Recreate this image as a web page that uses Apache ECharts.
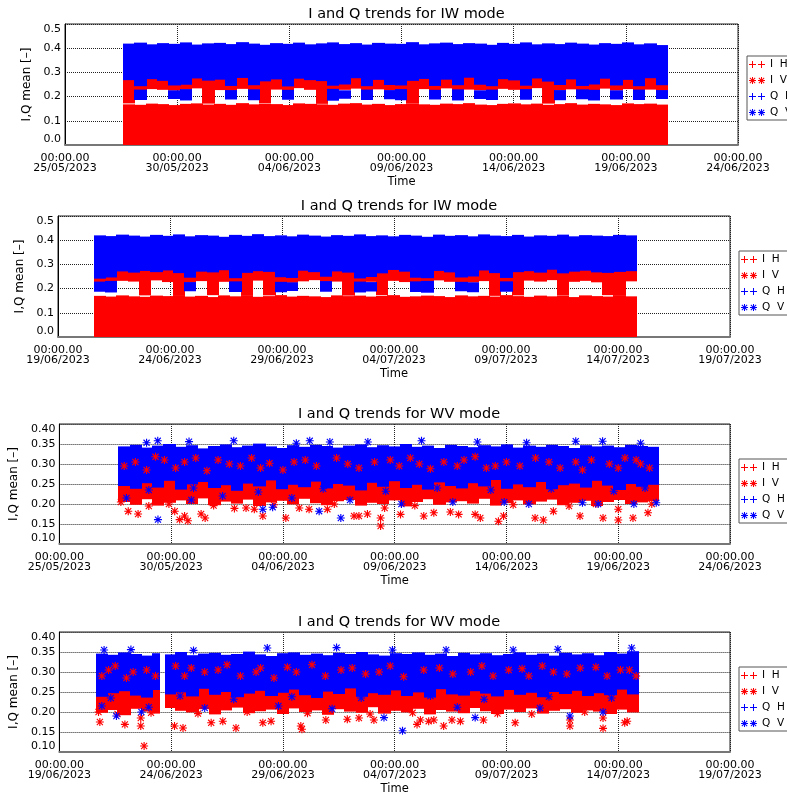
<!DOCTYPE html>
<html>
<head>
<meta charset="utf-8">
<script src="https://cdn.jsdelivr.net/npm/echarts@6/dist/echarts.min.js"></script>
<style>
html, body { margin: 0; padding: 0; background: #fff; }
#chart { width: 787px; height: 796px; }
</style>
</head>
<body>
<div id="chart"></div>
<script>
// x values are days since the first tick of each panel's time axis
var axisStart = [Date.UTC(2023, 4, 25), Date.UTC(2023, 5, 19), Date.UTC(2023, 4, 25), Date.UTC(2023, 5, 19)];
var dayTicks = 5;

// ---- panel 1: IW mode, 25/05 - 24/06 (12 h bins) ----
var iw1Span = [2.58, 26.83];
var iw1IHTop = [0.168,0.166,0.171,0.169,0.165,0.170,0.172,0.167,0.170,0.166,0.173,0.168,0.171,0.169,0.165,0.172,0.170,0.168,0.166,0.171,0.173,0.167,0.170,0.165,
                0.169,0.172,0.168,0.166,0.171,0.169,0.173,0.167,0.165,0.170,0.172,0.168,0.171,0.166,0.169,0.173,0.167,0.170,0.168,0.165,0.172,0.169,0.171,0.167];
var iw1IVLo = [0.172,0.226,0.231,0.228,0.225,0.229,0.234,0.171,0.227,0.224,0.232,0.226,0.173,0.229,0.225,0.235,0.228,0.170,0.224,0.228,0.233,0.225,0.230,0.226,
               0.224,0.172,0.231,0.227,0.234,0.225,0.229,0.226,0.223,0.232,0.228,0.225,0.235,0.171,0.226,0.230,0.224,0.227,0.233,0.225,0.231,0.226,0.229,0.224];
var iw1IVTop = [0.288,0.284,0.291,0.286,0.289,0.283,0.290,0.287,0.285,0.292,0.284,0.288,0.286,0.290,0.283,0.289,0.287,0.291,0.285,0.288,0.284,0.290,0.286,0.289,
                0.287,0.283,0.290,0.285,0.288,0.292,0.284,0.289,0.286,0.290,0.283,0.288,0.291,0.285,0.287,0.289,0.284,0.290,0.286,0.288,0.285,0.291,0.287,0.289];
var iw1QHLo = [0.268,0.243,0.272,0.265,0.246,0.249,0.275,0.266,0.270,0.244,0.277,0.247,0.263,0.271,0.242,0.274,0.268,0.264,0.245,0.250,0.276,0.243,0.269,0.248,
               0.246,0.265,0.273,0.244,0.270,0.247,0.278,0.249,0.243,0.272,0.267,0.245,0.275,0.262,0.248,0.271,0.244,0.250,0.274,0.246,0.269,0.243,0.276,0.247];
var iw1QHTop = [0.419,0.423,0.416,0.421,0.418,0.424,0.415,0.420,0.422,0.417,0.425,0.419,0.414,0.421,0.418,0.423,0.416,0.420,0.424,0.417,0.421,0.415,0.422,0.419,
                0.418,0.425,0.416,0.420,0.423,0.417,0.421,0.419,0.414,0.422,0.418,0.424,0.416,0.420,0.417,0.423,0.419,0.415,0.421,0.418,0.424,0.416,0.420,0.413];
var iw1QVLo = [null,0.186,null,null,0.190,0.184,null,null,null,0.188,null,0.185,null,null,0.187,null,null,null,0.183,0.191,null,0.186,null,0.189,
               0.185,null,null,0.188,null,0.184,null,0.190,0.186,null,null,0.187,null,null,0.185,null,0.189,0.184,null,0.188,null,0.186,null,0.190];
var iw1QVTop = [null,0.229,null,null,0.226,0.231,null,null,null,0.227,null,0.230,null,null,0.228,null,null,null,0.232,0.226,null,0.229,null,0.227,
                0.231,null,null,0.228,null,0.230,null,0.226,0.229,null,null,0.231,null,null,0.227,null,0.230,0.228,null,0.226,null,0.229,null,0.227];

// ---- panel 2: IW mode, 19/06 - 19/07 ----
var iw2Span = [1.60, 25.80];
var iw2IHTop = [0.170,0.167,0.172,0.168,0.166,0.171,0.169,0.173,0.167,0.170,0.165,0.172,0.168,0.171,0.166,0.169,0.173,0.167,0.170,0.168,0.165,0.172,0.169,0.171,
                0.167,0.170,0.173,0.166,0.168,0.171,0.169,0.165,0.172,0.168,0.170,0.167,0.173,0.169,0.166,0.171,0.168,0.170,0.165,0.172,0.169,0.167,0.171,0.168];
var iw2IVLo = [0.226,0.228,0.232,0.229,0.172,0.234,0.227,0.171,0.225,0.231,0.173,0.228,0.226,0.170,0.233,0.172,0.227,0.224,0.230,0.235,0.226,0.229,0.171,0.225,
               0.228,0.173,0.232,0.227,0.224,0.229,0.234,0.228,0.226,0.225,0.231,0.170,0.227,0.172,0.233,0.229,0.235,0.171,0.228,0.232,0.226,0.173,0.170,0.230];
var iw2IVTop = [0.287,0.284,0.290,0.286,0.289,0.283,0.291,0.285,0.288,0.284,0.290,0.287,0.283,0.289,0.286,0.292,0.284,0.288,0.285,0.290,0.287,0.283,0.289,0.286,
                0.288,0.284,0.291,0.285,0.287,0.290,0.283,0.288,0.286,0.289,0.284,0.291,0.285,0.287,0.290,0.283,0.288,0.286,0.289,0.284,0.290,0.287,0.285,0.288];
var iw2QHLo = [0.241,0.246,0.271,0.266,0.273,0.268,0.275,0.264,0.245,0.270,0.267,0.276,0.243,0.265,0.272,0.269,0.247,0.244,0.274,0.268,0.249,0.271,0.266,0.242,
               0.248,0.263,0.277,0.270,0.245,0.243,0.273,0.267,0.246,0.250,0.275,0.264,0.244,0.268,0.272,0.266,0.278,0.263,0.270,0.274,0.267,0.265,0.269,0.272];
var iw2QHTop = [0.420,0.417,0.423,0.419,0.415,0.422,0.418,0.424,0.416,0.421,0.419,0.414,0.422,0.418,0.425,0.417,0.420,0.416,0.423,0.419,0.415,0.421,0.418,0.424,
                0.417,0.420,0.416,0.422,0.419,0.414,0.423,0.418,0.421,0.416,0.424,0.419,0.417,0.422,0.415,0.420,0.418,0.423,0.416,0.421,0.419,0.417,0.422,0.420];
var iw2QVLo = [0.187,0.184,null,null,null,null,null,null,0.189,null,null,null,0.186,null,null,null,0.185,0.190,null,null,0.187,null,null,0.184,
               0.188,null,null,null,0.186,0.183,null,null,0.189,0.185,null,null,0.187,null,null,null,null,null,null,null,null,null,null,null];
var iw2QVTop = [0.229,0.232,null,null,null,null,null,null,0.227,null,null,null,0.230,null,null,null,0.228,0.226,null,null,0.231,null,null,0.229,
                0.227,null,null,null,0.230,0.232,null,null,0.228,0.226,null,null,0.230,null,null,null,null,null,null,null,null,null,null,null];

// ---- panel 3: WV mode, 25/05 - 24/06 ----
var wv3Span = [2.64, 26.80];
var wv3IHLo = [0.205,0.198,0.212,0.196,0.203,0.209,0.200,0.214,0.197,0.206,0.201,0.211,0.195,0.204,0.208,0.199,0.213,0.202,0.197,0.207,0.210,0.196,0.203,0.200,
               0.209,0.194,0.205,0.212,0.198,0.204,0.207,0.201,0.213,0.196,0.202,0.209,0.199,0.206,0.211,0.197,0.203,0.208,0.195,0.205,0.210,0.200,0.204,0.207];
var wv3IHTop = 0.27;
var wv3QHLo = [0.245,0.238,0.252,0.241,0.258,0.236,0.249,0.255,0.240,0.247,0.233,0.251,0.244,0.259,0.237,0.248,0.242,0.256,0.239,0.250,0.246,0.234,0.253,0.243,
               0.257,0.240,0.248,0.236,0.254,0.245,0.239,0.252,0.244,0.260,0.238,0.249,0.242,0.255,0.237,0.247,0.251,0.241,0.258,0.246,0.235,0.250,0.243,0.248];
var wv3QHTop = [0.344,0.348,0.341,0.346,0.350,0.343,0.347,0.339,0.345,0.349,0.342,0.346,0.351,0.344,0.340,0.347,0.343,0.348,0.345,0.341,0.346,0.349,0.342,0.347,
                0.344,0.350,0.343,0.346,0.340,0.348,0.345,0.342,0.347,0.344,0.349,0.341,0.346,0.343,0.348,0.345,0.340,0.347,0.344,0.346,0.342,0.348,0.345,0.343];
var wv3IVPts = [[3.08,0.182],[3.52,0.175],[5.16,0.182],[5.38,0.161],[5.60,0.170],[5.75,0.158],[6.34,0.175],[6.52,0.165],[7.83,0.189],[8.35,0.190],
                [8.72,0.187],[9.10,0.170],[10.13,0.165],[10.73,0.190],[11.17,0.187],[11.99,0.187],[13.18,0.170],[13.40,0.170],[13.78,0.175],[14.37,0.145],
                [14.37,0.165],[14.55,0.190],[15.26,0.174],[16.30,0.170],[16.75,0.178],[17.49,0.180],[17.86,0.174],[18.60,0.174],[18.83,0.165],[19.64,0.157],
                [19.87,0.170],[21.28,0.165],[21.65,0.160],[22.10,0.182],[23.29,0.170],[24.32,0.165],[25.00,0.160],[25.00,0.187],[25.66,0.165],[26.33,0.178],
                [2.75,0.205],[4.00,0.195],[4.90,0.200],[6.90,0.196],[9.60,0.198],[12.30,0.200],[15.90,0.196],[20.30,0.198],[22.80,0.195],[24.00,0.200],[26.50,0.200],
                [3.40,0.305],[4.70,0.310],[6.10,0.315],[7.60,0.300],[9.00,0.290],[10.50,0.305],[12.90,0.300],[14.80,0.310],[16.10,0.300],[18.10,0.310],
                [19.50,0.295],[21.90,0.305],[23.80,0.310],[25.30,0.315],[26.00,0.300],
                [2.90,0.295],[3.90,0.285],[4.30,0.318],[5.20,0.290],[5.60,0.305],[6.60,0.283],[7.10,0.310],[8.10,0.295],[8.60,0.315],[9.40,0.302],
                [10.00,0.285],[11.00,0.310],[11.50,0.295],[12.40,0.315],[13.40,0.290],[14.10,0.305],[15.20,0.295],[15.70,0.315],[16.60,0.288],[17.20,0.305],
                [17.80,0.295],[18.60,0.318],[19.10,0.290],[20.00,0.305],[20.60,0.295],[21.30,0.315],[22.40,0.290],[23.10,0.305],[23.40,0.285],[24.60,0.300],
                [25.00,0.290],[25.80,0.310],[26.40,0.290]];
var wv3QVPts = [[4.41,0.161],[12.59,0.165],[9.54,0.192],[11.62,0.182],[9.10,0.187],
                [15.30,0.200],[17.60,0.205],[19.90,0.205],[21.00,0.200],[23.40,0.203],[24.10,0.200],[25.70,0.200],[26.70,0.203],[3.00,0.215],[5.90,0.210],
                [7.30,0.220],[10.40,0.215],[13.00,0.210],
                [4.00,0.235],[6.00,0.240],[8.90,0.230],[11.80,0.238],[14.60,0.232],[16.90,0.240],[19.30,0.235],[22.00,0.238],[24.80,0.232],[26.20,0.240],
                [3.90,0.353],[4.40,0.358],[5.80,0.356],[7.80,0.358],[10.60,0.352],[11.20,0.358],[12.10,0.355],[13.80,0.355],[16.20,0.358],[18.70,0.355],
                [20.90,0.353],[23.10,0.357],[24.30,0.357],[26.00,0.352]];

// ---- panel 4: WV mode, 19/06 - 19/07 ----
var wv4Span = [1.63, 25.90];
var wv4Gap = [4.47, 4.72];
var wv4IHLo = [0.198,0.205,0.192,0.208,0.201,0.196,0.210,0.203,0.199,0.207,0.194,0.204,0.211,0.197,0.202,0.206,0.195,0.209,0.200,0.204,0.193,0.207,0.201,0.198,
               0.212,0.196,0.203,0.199,0.208,0.194,0.205,0.201,0.197,0.210,0.202,0.195,0.206,0.200,0.209,0.196,0.203,0.207,0.198,0.204,0.201,0.195,0.206,0.199];
var wv4IHTop = 0.27;
var wv4QHLo = [0.238,0.247,0.252,0.241,0.236,0.255,0.244,0.249,0.239,0.258,0.243,0.250,0.237,0.246,0.253,0.240,0.248,0.256,0.242,0.235,0.251,0.245,0.259,0.238,
               0.247,0.243,0.254,0.240,0.249,0.236,0.257,0.244,0.241,0.252,0.246,0.239,0.255,0.243,0.248,0.237,0.250,0.245,0.253,0.240,0.247,0.242,0.256,0.244];
var wv4QHTop = [0.346,0.343,0.349,0.345,0.341,0.347,0.344,0.350,0.342,0.346,0.348,0.343,0.345,0.351,0.344,0.340,0.347,0.349,0.343,0.346,0.342,0.348,0.345,0.350,
                0.344,0.341,0.347,0.345,0.349,0.343,0.346,0.340,0.348,0.344,0.347,0.342,0.345,0.349,0.343,0.346,0.341,0.348,0.344,0.347,0.342,0.350,0.346,0.352];
var wv4IVPts = [[1.81,0.175],[2.93,0.169],[3.64,0.185],[3.64,0.165],[3.79,0.115],[5.15,0.165],[5.53,0.160],[6.79,0.173],[7.31,0.177],[7.90,0.160],
                [9.10,0.173],[9.47,0.177],[10.80,0.165],[10.85,0.157],[11.92,0.180],[12.88,0.182],[13.40,0.185],[14.07,0.180],[16.00,0.169],[16.15,0.180],
                [16.52,0.177],[16.75,0.180],[17.19,0.165],[17.56,0.180],[17.94,0.177],[18.97,0.180],[20.39,0.173],[21.13,0.195],[22.84,0.180],[22.84,0.165],
                [24.32,0.159],[24.32,0.185],[25.29,0.173],[25.40,0.177],
                [1.75,0.200],[2.60,0.195],[4.10,0.198],[6.20,0.196],[8.40,0.200],[11.10,0.197],[13.90,0.195],[15.80,0.198],[19.60,0.196],[23.50,0.200],
                [2.20,0.305],[3.30,0.300],[5.90,0.310],[7.10,0.305],[8.80,0.300],[10.20,0.312],[12.60,0.305],[14.30,0.300],[17.00,0.310],[18.40,0.300],
                [20.70,0.308],[22.10,0.300],[24.00,0.312],[25.50,0.305],
                [1.90,0.290],[2.50,0.315],[3.00,0.285],[3.90,0.305],[4.30,0.290],[5.20,0.315],[5.60,0.290],[6.50,0.300],[7.50,0.318],[8.10,0.290],
                [9.00,0.310],[9.60,0.285],[10.60,0.300],[11.30,0.318],[11.90,0.290],[13.10,0.310],[13.70,0.295],[14.80,0.315],[15.40,0.288],[16.30,0.305],
                [17.60,0.295],[18.90,0.315],[19.40,0.290],[20.10,0.305],[21.00,0.290],[21.60,0.315],[22.70,0.295],[23.30,0.310],[24.50,0.290],[25.10,0.305],
                [25.80,0.290]];
var wv4QVPts = [[2.55,0.190],[3.67,0.200],[14.52,0.186],[15.35,0.153],[18.60,0.186],[22.84,0.190],[24.32,0.200],
                [1.90,0.215],[4.00,0.212],[6.50,0.210],[9.80,0.215],[12.20,0.208],[17.80,0.212],[21.50,0.210],
                [2.30,0.235],[5.40,0.240],[7.80,0.232],[10.40,0.238],[13.50,0.235],[16.60,0.240],[19.00,0.232],[21.90,0.238],[24.70,0.235],
                [2.00,0.355],[3.20,0.356],[6.00,0.354],[9.30,0.360],[12.40,0.361],[14.90,0.355],[17.30,0.355],[20.30,0.355],[22.30,0.357],[25.60,0.360]];

// ---- drawing ----
var RED = '#ff0000', BLUE = '#0000ff', FONT = 'DejaVu Sans';
var PLUS = 'M3,0h1v7h-1zM0,3h7v1h-7z';
var STAR = PLUS + 'M0.5,1.2L1.2,0.5L6.5,5.8L5.8,6.5zM5.8,0.5L6.5,1.2L1.2,6.5L0.5,5.8z';
var PLUS2 = PLUS + 'M12,0h1v7h-1zM9,3h7v1h-7z';
var STAR2 = STAR + 'M12,0h1v7h-1zM9,3h7v1h-7zM9.5,1.2L10.2,0.5L15.5,5.8L14.8,6.5zM14.8,0.5L15.5,1.2L10.2,6.5L9.5,5.8z';

var layout = [
    {left: 65, right: 49, top: 24, height: 121, legend: [747, 56], ymin: 0, ymax: 0.5, step: 0.1, dec: 1, nameGap: 32, title: 'I and Q trends for IW mode'},
    {left: 58, right: 57, top: 216, height: 121, legend: [739, 251], ymin: 0, ymax: 0.5, step: 0.1, dec: 1, nameGap: 30, title: 'I and Q trends for IW mode'},
    {left: 58, right: 57, top: 424, height: 120, legend: [739, 459], ymin: 0.1, ymax: 0.4, step: 0.05, dec: 2, nameGap: 39, title: 'I and Q trends for WV mode'},
    {left: 58, right: 57, top: 632, height: 120, legend: [739, 667], ymin: 0.1, ymax: 0.4, step: 0.05, dec: 2, nameGap: 39, title: 'I and Q trends for WV mode'}
];

function pick(v, i) { return typeof v === 'number' ? v : v[i]; }

// one rectangle per time bin: [x0, x1, lo, hi]
function band(span, lo, hi, gap) {
    var n = typeof lo === 'number' ? hi.length : lo.length;
    var w = (span[1] - span[0]) / n, out = [];
    for (var i = 0; i < n; i++) {
        var a = span[0] + i * w, b = a + w, l = pick(lo, i), h = pick(hi, i);
        if (l == null || h == null) continue;
        if (gap && a < gap[1] && b > gap[0]) {
            if (a < gap[0]) out.push([a, gap[0], l, h]);
            if (b > gap[1]) out.push([gap[1], b, l, h]);
        } else {
            out.push([a, b, l, h]);
        }
    }
    return out;
}

function renderBand(params, api) {
    var p0 = api.coord([api.value(0), api.value(3)]);
    var p1 = api.coord([api.value(1), api.value(2)]);
    var x0 = Math.round(p0[0]), x1 = Math.round(p1[0]);
    return {
        type: 'rect',
        shape: {x: x0, y: p0[1], width: x1 - x0 + 1, height: p1[1] - p0[1]},
        style: {fill: api.visual('color')}
    };
}

function bandSeries(name, color, k, data) {
    return {
        type: 'custom', name: name, xAxisIndex: k, yAxisIndex: k, clip: true, silent: true,
        renderItem: renderBand, encode: {x: [0, 1], y: [2, 3]},
        itemStyle: {color: color}, data: data
    };
}

function pointSeries(name, color, symbol, size, k, data) {
    return {
        type: 'scatter', name: name, xAxisIndex: k, yAxisIndex: k, silent: true,
        symbol: 'path://' + symbol, symbolSize: size,
        itemStyle: {color: color, opacity: 1}, data: data
    };
}

function pad(n) { return n < 10 ? '0' + n : '' + n; }

var grids = [], xAxes = [], yAxes = [], titles = [], legends = [], series = [];

layout.forEach(function (p, k) {
    grids.push({left: p.left, right: p.right, top: p.top, height: p.height, show: true,
                borderColor: '#222', borderWidth: 1, backgroundColor: '#fff'});
    xAxes.push({
        type: 'value', gridIndex: k, min: 0, max: 30, interval: dayTicks,
        name: 'Time', nameLocation: 'middle', nameGap: 31,
        nameTextStyle: {fontFamily: FONT, fontSize: 11.5, color: '#000'},
        axisLine: {lineStyle: {color: '#777', width: 2}},
        axisTick: {show: false},
        splitLine: {show: true, lineStyle: {color: '#222', width: 1, type: [1, 1]}},
        axisLabel: {
            fontFamily: FONT, fontSize: 11, color: '#000', margin: 8, lineHeight: 10,
            showMinLabel: true, showMaxLabel: true,
            formatter: function (v) {
                var d = new Date(axisStart[k] + v * 86400000);
                return '00:00.00\n' + pad(d.getUTCDate()) + '/' + pad(d.getUTCMonth() + 1) + '/' + d.getUTCFullYear();
            }
        }
    });
    yAxes.push({
        type: 'value', gridIndex: k, min: p.ymin, max: p.ymax, interval: p.step,
        name: 'I,Q mean [–]', nameLocation: 'middle', nameGap: p.nameGap,
        nameTextStyle: {fontFamily: FONT, fontSize: 12, color: '#000'},
        axisLine: {show: true, lineStyle: {color: '#000', width: 1}},
        axisTick: {show: false},
        splitLine: {show: true, lineStyle: {color: '#222', width: 1, type: [1, 1]}},
        axisLabel: {
            fontFamily: FONT, fontSize: 11, color: '#000', margin: 4,
            verticalAlignMinLabel: 'bottom', verticalAlignMaxLabel: 'top',
            formatter: function (v) { return v.toFixed(p.dec); }
        }
    });
    titles.push({
        text: p.title, left: p.left + (787 - p.left - p.right) / 2, textAlign: 'center', top: p.top - 22,
        textStyle: {fontFamily: FONT, fontSize: 14.5, fontWeight: 'normal', color: '#000'}
    });
    legends.push({
        left: p.legend[0], top: p.legend[1], orient: 'vertical', selectedMode: false,
        itemWidth: 16, itemHeight: 8, itemGap: 5, padding: [3, 4, 2, 2],
        borderColor: '#555', borderWidth: 1, backgroundColor: '#fff',
        textStyle: {fontFamily: FONT, fontSize: 10.5, color: '#000', lineHeight: 8},
        formatter: function (n) { return n.replace(' ', '  '); },
        data: [
            {name: 'I H', icon: 'path://' + PLUS2, itemStyle: {color: RED}},
            {name: 'I V', icon: 'path://' + STAR2, itemStyle: {color: RED}},
            {name: 'Q H', icon: 'path://' + PLUS2, itemStyle: {color: BLUE}},
            {name: 'Q V', icon: 'path://' + STAR2, itemStyle: {color: BLUE}}
        ]
    });
});

// IW panels: I H low band, I V middle band, Q H upper band, Q V blobs near 0.2
series.push(bandSeries('I H', RED, 0, band(iw1Span, 0, iw1IHTop)));
series.push(bandSeries('I V', RED, 0, band(iw1Span, iw1IVLo, iw1IVTop)));
series.push(bandSeries('Q H', BLUE, 0, band(iw1Span, iw1QHLo, iw1QHTop)));
series.push(bandSeries('Q V', BLUE, 0, band(iw1Span, iw1QVLo, iw1QVTop)));

series.push(bandSeries('I H', RED, 1, band(iw2Span, 0, iw2IHTop)));
series.push(bandSeries('I V', RED, 1, band(iw2Span, iw2IVLo, iw2IVTop)));
series.push(bandSeries('Q H', BLUE, 1, band(iw2Span, iw2QHLo, iw2QHTop)));
series.push(bandSeries('Q V', BLUE, 1, band(iw2Span, iw2QVLo, iw2QVTop)));

// WV panels: dense cores as bands, scattered asterisks on top
series.push(bandSeries('I H', RED, 2, band(wv3Span, wv3IHLo, wv3IHTop)));
series.push(bandSeries('Q H', BLUE, 2, band(wv3Span, wv3QHLo, wv3QHTop)));
series.push(pointSeries('I V', RED, STAR, 8, 2, wv3IVPts));
series.push(pointSeries('Q V', BLUE, STAR, 8, 2, wv3QVPts));

series.push(bandSeries('I H', RED, 3, band(wv4Span, wv4IHLo, wv4IHTop, wv4Gap)));
series.push(bandSeries('Q H', BLUE, 3, band(wv4Span, wv4QHLo, wv4QHTop, wv4Gap)));
series.push(pointSeries('I V', RED, STAR, 8, 3, wv4IVPts));
series.push(pointSeries('Q V', BLUE, STAR, 8, 3, wv4QVPts));

var myChart = echarts.init(document.getElementById('chart'), null, {renderer: 'canvas'});
myChart.setOption({
    animation: false,
    backgroundColor: '#fff',
    title: titles,
    legend: legends,
    grid: grids,
    xAxis: xAxes,
    yAxis: yAxes,
    series: series
});
</script>
</body>
</html>
